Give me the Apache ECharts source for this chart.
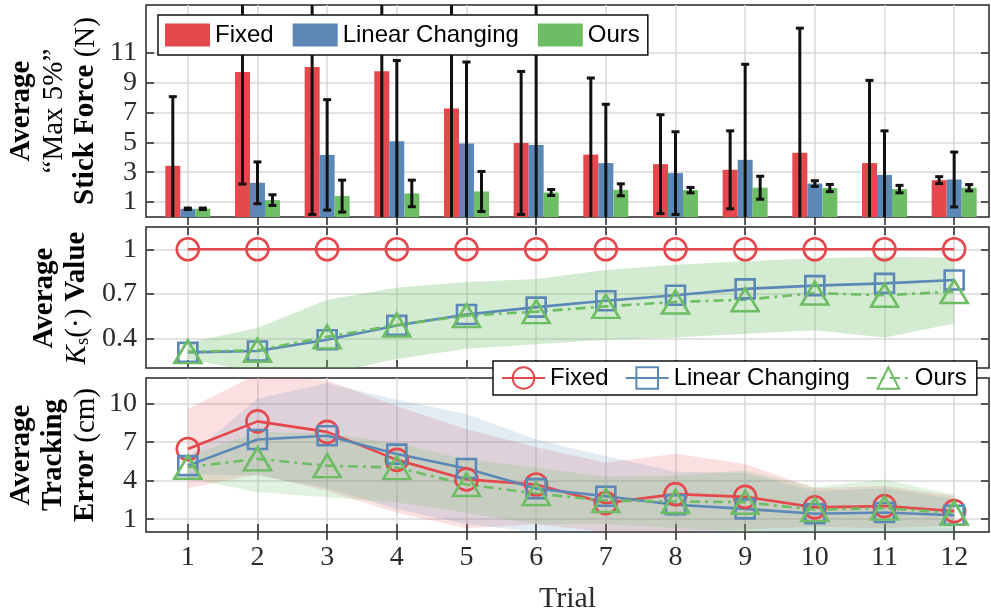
<!DOCTYPE html>
<html>
<head>
<meta charset="utf-8">
<script src="https://cdn.jsdelivr.net/npm/echarts@6/dist/echarts.min.js"></script>
<style>
html, body { margin: 0; padding: 0; background: #fff; }
#main { width: 991px; height: 610px; }
</style>
</head>
<body>
<div id="main"></div>
<script>
var myChart = echarts.init(document.getElementById('main'));

var trials = [1, 2, 3, 4, 5, 6, 7, 8, 9, 10, 11, 12];

// top: average "max 5%" stick force (N), mean and std
var forceFixed = [3.43, 9.71, 10.04, 9.77, 7.26, 4.96, 4.18, 3.54, 3.16, 4.30, 3.61, 2.47];
var forceFixedStd = [4.63, 7.5, 9.87, 10.5, 8.0, 4.79, 5.13, 3.31, 2.61, 8.35, 5.54, 0.23];
var forceLinear = [0.55, 2.29, 4.16, 5.08, 4.92, 4.83, 3.61, 2.94, 3.83, 2.24, 2.82, 2.51];
var forceLinearStd = [0.05, 1.4, 3.7, 5.4, 5.46, 10.0, 3.94, 2.77, 6.4, 0.19, 2.95, 1.84];
var forceOurs = [0.55, 1.13, 1.40, 1.58, 1.71, 1.64, 1.82, 1.80, 1.96, 1.94, 1.87, 1.96];
var forceOursStd = [0.05, 0.36, 1.07, 0.89, 1.34, 0.2, 0.4, 0.18, 0.77, 0.24, 0.25, 0.21];

// middle: average Ks value
var ksFixed = [1, 1, 1, 1, 1, 1, 1, 1, 1, 1, 1, 1];
var ksLinear = [0.305, 0.315, 0.39, 0.487, 0.56, 0.61, 0.653, 0.69, 0.733, 0.755, 0.77, 0.793];
var ksOurs = [0.31, 0.32, 0.41, 0.49, 0.553, 0.58, 0.615, 0.645, 0.66, 0.705, 0.69, 0.715];
var ksOursLow = [0.26, 0.17, 0.16, 0.26, 0.33, 0.36, 0.39, 0.405, 0.43, 0.455, 0.405, 0.5];
var ksOursHigh = [0.37, 0.47, 0.66, 0.74, 0.78, 0.80, 0.86, 0.895, 0.92, 0.94, 0.95, 0.945];

// bottom: average tracking error (cm)
var errFixed = [6.47, 8.62, 7.8, 5.62, 4.1, 3.7, 2.25, 2.95, 2.74, 1.92, 2.02, 1.63];
var errLinear = [5.17, 7.21, 7.5, 6.07, 4.95, 3.38, 2.78, 2.12, 1.8, 1.42, 1.52, 1.3];
var errOurs = [5.05, 5.7, 5.17, 5.02, 3.7, 3.0, 2.45, 2.38, 2.32, 1.74, 1.86, 1.47];
var errFixedLow = [3.4, 4.5, 3.2, 1.5, 0.3, 0.6, 0, 0, 0.2, 0.4, 0.3, 0.5];
var errFixedHigh = [9.6, 12.3, 11.8, 9.8, 8.0, 6.6, 5.4, 6.1, 5.3, 3.4, 3.6, 2.8];
var errLinearLow = [4.5, 4.4, 3.4, 1.8, 0.6, 0, 0, 0, 0, 0, 0, 0];
var errLinearHigh = [5.8, 10.4, 11.6, 10.3, 9.2, 7.2, 5.9, 4.7, 4.6, 3.2, 3.4, 2.6];
var errOursLow = [4.2, 3.1, 2.7, 2.3, 1.5, 0.6, 0.6, 0.3, 0, 0, 0, 0];
var errOursHigh = [5.9, 7.8, 7.7, 6.9, 5.7, 5.0, 4.3, 4.4, 4.8, 3.5, 4.1, 2.9];

var forceTicks = [1, 3, 5, 7, 9, 11];
var ksTicks = [0.4, 0.7, 1];
var errTicks = [1, 4, 7, 10];

var RED = '#e5484c', BLUE = '#5b88b7', GREEN = '#6dbd64';
var serif = 'Liberation Serif';
var frameColor = '#262626';

function pairs(ys) { return trials.map(function (t, i) { return [t, ys[i]]; }); }
function errData(m, s) { return trials.map(function (t, i) { return [t, m[i] - s[i], m[i] + s[i]]; }); }

function xAxisFor(gi, pos, labels) {
  return {
    type: 'value', gridIndex: gi, position: pos, min: 0.4, max: 12.5,
    axisLine: { show: false },
    axisTick: { show: true, inside: true, length: 8, customValues: trials, lineStyle: { color: frameColor, width: 1.5 } },
    axisLabel: { show: labels, customValues: trials, margin: 12, fontFamily: serif, fontSize: 28, color: '#2b2b2b' },
    splitLine: { show: pos === 'bottom', lineStyle: { color: '#d9d9d9', width: 1.5 } }
  };
}
function yAxisFor(gi, pos, min, max, ticks) {
  return {
    type: 'value', gridIndex: gi, position: pos, min: min, max: max,
    axisLine: { show: false },
    axisTick: { show: true, inside: true, length: 8, customValues: ticks, lineStyle: { color: frameColor, width: 1.5 } },
    axisLabel: { show: pos === 'left', customValues: ticks, margin: 9, fontFamily: serif, fontSize: 28, color: '#2b2b2b' },
    splitLine: { show: pos === 'left', lineStyle: { color: '#d9d9d9', width: 1.5 } }
  };
}

function errorBar(offset) {
  return function (params, api) {
    var x = api.value(0);
    var lo = api.coord([x, api.value(1)]);
    var hi = api.coord([x, api.value(2)]);
    var cx = lo[0] + offset;
    var st = { stroke: '#111', lineWidth: 3, fill: null };
    return {
      type: 'group',
      children: [
        { type: 'line', shape: { x1: cx, y1: lo[1], x2: cx, y2: hi[1] }, style: st },
        { type: 'line', shape: { x1: cx - 4, y1: lo[1], x2: cx + 4, y2: lo[1] }, style: st },
        { type: 'line', shape: { x1: cx - 4, y1: hi[1], x2: cx + 4, y2: hi[1] }, style: st }
      ]
    };
  };
}

function barSeries(name, data, color) {
  return { name: name, type: 'bar', xAxisIndex: 0, yAxisIndex: 0, data: pairs(data),
    barWidth: 15, barGap: '0%', itemStyle: { color: color }, z: 2 };
}
function errSeries(m, s, offset) {
  return { type: 'custom', xAxisIndex: 0, yAxisIndex: 0, data: errData(m, s), clip: true,
    renderItem: errorBar(offset), silent: true, z: 3 };
}
function lineSeries(name, ai, data, color, symbol, size, dash) {
  return { name: name, type: 'line', xAxisIndex: ai, yAxisIndex: ai, data: pairs(data),
    symbol: symbol, symbolSize: size, showAllSymbol: true,
    lineStyle: { color: color, width: 2.6, type: dash || 'solid' },
    itemStyle: { color: 'rgba(255,255,255,0)', borderColor: color, borderWidth: 2.6 },
    z: 5 };
}
// shaded band between lo and hi, drawn once as a polygon through the axis scales
function bandSeries(ai, lo, hi, color) {
  return {
    type: 'custom', xAxisIndex: ai, yAxisIndex: ai, data: [[trials[0], lo[0]]],
    clip: true, silent: true, z: 1,
    renderItem: function (params, api) {
      var pts = [];
      for (var i = 0; i < trials.length; i++) pts.push(api.coord([trials[i], hi[i]]));
      for (var j = trials.length - 1; j >= 0; j--) pts.push(api.coord([trials[j], lo[j]]));
      return { type: 'polygon', shape: { points: pts }, style: { fill: color } };
    }
  };
}

var dashDot = [10, 5, 3, 5];
var titleRich = {
  b: { fontFamily: serif, fontWeight: 'bold', fontSize: 29, lineHeight: 32, color: '#222' },
  n: { fontFamily: serif, fontSize: 29, lineHeight: 32, color: '#222' },
  i: { fontFamily: serif, fontStyle: 'italic', fontSize: 29, lineHeight: 32, color: '#222' },
  s: { fontFamily: serif, fontSize: 19, lineHeight: 32, color: '#222', verticalAlign: 'bottom' }
};

function gridAt(top, height) {
  return { left: 146, width: 843, top: top, height: height, show: true,
    borderColor: frameColor, borderWidth: 1.5, outerBoundsMode: 'none', containLabel: false };
}

var option = {
  animation: false,
  backgroundColor: '#fff',
  grid: [gridAt(5, 212), gridAt(227, 141), gridAt(378, 154)],
  xAxis: [
    xAxisFor(0, 'bottom', false), xAxisFor(0, 'top', false),
    xAxisFor(1, 'bottom', false), xAxisFor(1, 'top', false),
    Object.assign(xAxisFor(2, 'bottom', true), {
      name: 'Trial', nameLocation: 'middle', nameGap: 52,
      nameTextStyle: { fontFamily: serif, fontSize: 30, color: '#2b2b2b' }
    }),
    xAxisFor(2, 'top', false)
  ],
  yAxis: [
    yAxisFor(0, 'left', 0, 14.2, forceTicks), yAxisFor(0, 'right', 0, 14.2, forceTicks),
    yAxisFor(1, 'left', 0.2, 1.15, ksTicks), yAxisFor(1, 'right', 0.2, 1.15, ksTicks),
    yAxisFor(2, 'left', 0, 12, errTicks), yAxisFor(2, 'right', 0, 12, errTicks)
  ],
  legend: [
    {
      data: ['Fixed', 'Linear Changing', 'Ours'],
      left: 158, top: 15, orient: 'horizontal', icon: 'rect',
      itemWidth: 45, itemHeight: 23, itemGap: 19,
      padding: [8, 8, 8, 7],
      backgroundColor: '#fff', borderColor: '#111', borderWidth: 1.5, borderRadius: 0,
      textStyle: { fontFamily: 'Liberation Sans', fontSize: 24, color: '#000', lineHeight: 24 },
      selectedMode: false, z: 10
    },
    {
      data: ['Fixed ', 'Linear Changing ', 'Ours '],
      formatter: function (n) { return n.trim(); },
      left: 493, top: 361, orient: 'horizontal',
      itemWidth: 43, itemHeight: 27, itemGap: 16,
      padding: [5, 10, 5, 8],
      backgroundColor: '#fff', borderColor: '#111', borderWidth: 1.5, borderRadius: 0,
      textStyle: { fontFamily: 'Liberation Sans', fontSize: 24, color: '#000', lineHeight: 24 },
      selectedMode: false, z: 10
    }
  ],
  graphic: [
    { type: 'text', x: 54, y: 111, rotation: Math.PI / 2, z: 20,
      style: { text: '{b|Average}\n{n|“Max 5%”}\n{b|Stick Force }{n|(N)}', rich: titleRich, align: 'center', verticalAlign: 'middle' } },
    { type: 'text', x: 61, y: 298, rotation: Math.PI / 2, z: 20,
      style: { text: '{b|Average}\n{i|K}{s|s}{n|(·) }{b|Value}', rich: titleRich, align: 'center', verticalAlign: 'middle' } },
    { type: 'text', x: 54, y: 455, rotation: Math.PI / 2, z: 20,
      style: { text: '{b|Average}\n{b|Tracking}\n{b|Error }{n|(cm)}', rich: titleRich, align: 'center', verticalAlign: 'middle' } }
  ],
  series: [
    barSeries('Fixed', forceFixed, RED),
    barSeries('Linear Changing', forceLinear, BLUE),
    barSeries('Ours', forceOurs, GREEN),
    errSeries(forceFixed, forceFixedStd, -15),
    errSeries(forceLinear, forceLinearStd, 0),
    errSeries(forceOurs, forceOursStd, 15),

    bandSeries(2, ksOursLow, ksOursHigh, 'rgba(109,189,100,0.3)'),
    lineSeries('ks-fixed', 2, ksFixed, RED, 'circle', 22),
    lineSeries('ks-linear', 2, ksLinear, BLUE, 'rect', 19),
    lineSeries('ks-ours', 2, ksOurs, GREEN, 'triangle', [27, 23], dashDot),

    bandSeries(4, errFixedLow, errFixedHigh, 'rgba(229,72,76,0.17)'),
    bandSeries(4, errLinearLow, errLinearHigh, 'rgba(91,136,183,0.17)'),
    bandSeries(4, errOursLow, errOursHigh, 'rgba(109,189,100,0.2)'),
    lineSeries('Fixed ', 4, errFixed, RED, 'circle', 22),
    lineSeries('Linear Changing ', 4, errLinear, BLUE, 'rect', 19),
    lineSeries('Ours ', 4, errOurs, GREEN, 'triangle', [27, 23], dashDot)
  ]
};

myChart.setOption(option);
</script>
</body>
</html>
